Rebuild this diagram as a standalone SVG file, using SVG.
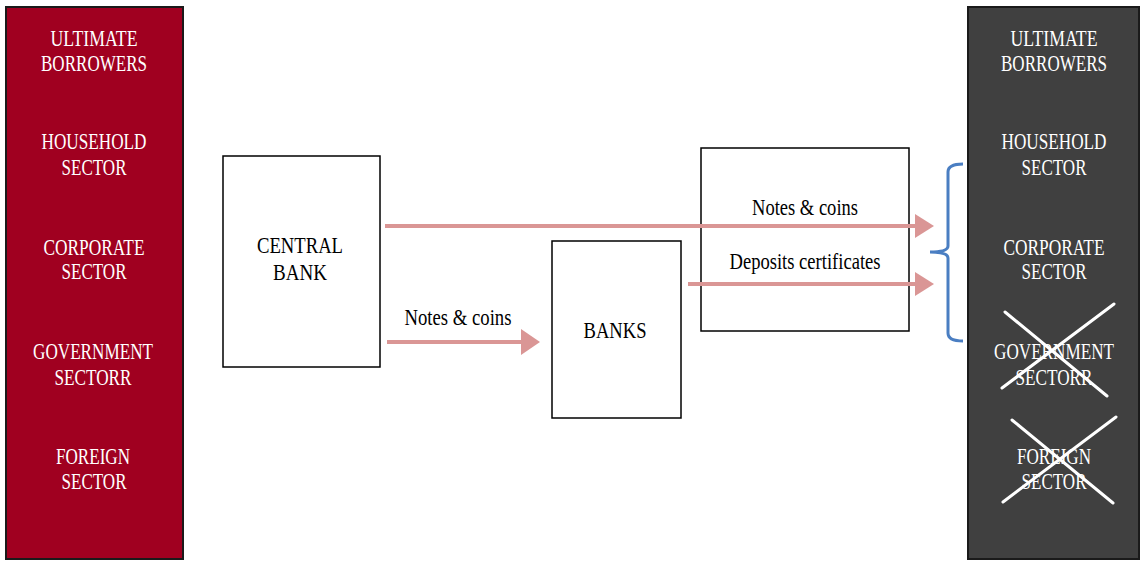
<svg xmlns="http://www.w3.org/2000/svg" width="1140" height="562" viewBox="0 0 1140 562">
<style>
text{font-family:'Liberation Serif','Times New Roman',serif;font-size:24px;text-anchor:middle}
.w{fill:#ffffff}
.k{fill:#000000}
.box{fill:#ffffff;stroke:#000000;stroke-width:1.5}
.arr{stroke:#DA9695;stroke-width:4;fill:none}
.head{fill:#DA9695}
.x{stroke:#ffffff;stroke-width:3;stroke-linecap:round}
</style>
<rect width="1140" height="562" fill="#ffffff"/>
<g id="ultimate-left">
<rect x="6" y="7" width="177" height="552" fill="#A00020" stroke="#1a1a1a" stroke-width="2"/>
<text class="w" x="94" y="46" textLength="87" lengthAdjust="spacingAndGlyphs">ULTIMATE</text>
<text class="w" x="94" y="71" textLength="106" lengthAdjust="spacingAndGlyphs">BORROWERS</text>
<text class="w" x="94" y="149" textLength="105" lengthAdjust="spacingAndGlyphs">HOUSEHOLD</text>
<text class="w" x="94" y="175" textLength="65" lengthAdjust="spacingAndGlyphs">SECTOR</text>
<text class="w" x="94" y="255" textLength="101" lengthAdjust="spacingAndGlyphs">CORPORATE</text>
<text class="w" x="94" y="279" textLength="65" lengthAdjust="spacingAndGlyphs">SECTOR</text>
<text class="w" x="93" y="359" textLength="120" lengthAdjust="spacingAndGlyphs">GOVERNMENT</text>
<text class="w" x="93" y="385" textLength="77" lengthAdjust="spacingAndGlyphs">SECTORR</text>
<text class="w" x="93" y="464" textLength="74" lengthAdjust="spacingAndGlyphs">FOREIGN</text>
<text class="w" x="94" y="489" textLength="65" lengthAdjust="spacingAndGlyphs">SECTOR</text>
</g>
<g id="ultimate-right">
<rect x="968" y="7" width="171" height="552" fill="#404040" stroke="#1a1a1a" stroke-width="2"/>
<text class="w" x="1054" y="46" textLength="87" lengthAdjust="spacingAndGlyphs">ULTIMATE</text>
<text class="w" x="1054" y="71" textLength="106" lengthAdjust="spacingAndGlyphs">BORROWERS</text>
<text class="w" x="1054" y="149" textLength="105" lengthAdjust="spacingAndGlyphs">HOUSEHOLD</text>
<text class="w" x="1054" y="175" textLength="65" lengthAdjust="spacingAndGlyphs">SECTOR</text>
<text class="w" x="1054" y="255" textLength="101" lengthAdjust="spacingAndGlyphs">CORPORATE</text>
<text class="w" x="1054" y="279" textLength="65" lengthAdjust="spacingAndGlyphs">SECTOR</text>
<text class="w" x="1054" y="359" textLength="120" lengthAdjust="spacingAndGlyphs">GOVERNMENT</text>
<text class="w" x="1054" y="385" textLength="77" lengthAdjust="spacingAndGlyphs">SECTORR</text>
<text class="w" x="1054" y="464" textLength="74" lengthAdjust="spacingAndGlyphs">FOREIGN</text>
<text class="w" x="1054" y="489" textLength="65" lengthAdjust="spacingAndGlyphs">SECTOR</text>
<line class="x" x1="1005" y1="312" x2="1107" y2="396"/>
<line class="x" x1="1002" y1="388" x2="1114" y2="304"/>
<line class="x" x1="1012" y1="420" x2="1113" y2="503"/>
<line class="x" x1="1003" y1="502" x2="1116" y2="417"/>
</g>
<g id="central-bank">
<rect class="box" x="223" y="156" width="157" height="211"/>
<text class="k" x="300" y="253" textLength="86" lengthAdjust="spacingAndGlyphs">CENTRAL</text>
<text class="k" x="300" y="280" textLength="54" lengthAdjust="spacingAndGlyphs">BANK</text>
</g>
<g id="banks">
<rect class="box" x="552" y="241" width="129" height="177"/>
<text class="k" x="615" y="338" textLength="63" lengthAdjust="spacingAndGlyphs">BANKS</text>
</g>
<g id="instruments-box">
<rect class="box" x="701" y="148" width="208" height="183"/>
</g>
<g id="connectors">
<line class="arr" x1="385" y1="226" x2="917" y2="226"/>
<polygon class="head" points="915,214 934,226 915,238"/>
<line class="arr" x1="387" y1="342" x2="523" y2="342"/>
<polygon class="head" points="521,329 540,342 521,355"/>
<line class="arr" x1="688" y1="284" x2="917" y2="284"/>
<polygon class="head" points="915,272 934,284 915,296"/>
<path d="M963,164 Q948,164 948,172 L948,246 Q948,252 930,252 Q948,252 948,258 L948,333 Q948,341 963,341" fill="none" stroke="#4A7EC2" stroke-width="3"/>
<text class="k" x="805" y="215" textLength="106" lengthAdjust="spacingAndGlyphs">Notes &amp; coins</text>
<text class="k" x="805" y="269" textLength="151" lengthAdjust="spacingAndGlyphs">Deposits certificates</text>
<text class="k" x="458" y="325" textLength="107" lengthAdjust="spacingAndGlyphs">Notes &amp; coins</text>
</g>
</svg>
